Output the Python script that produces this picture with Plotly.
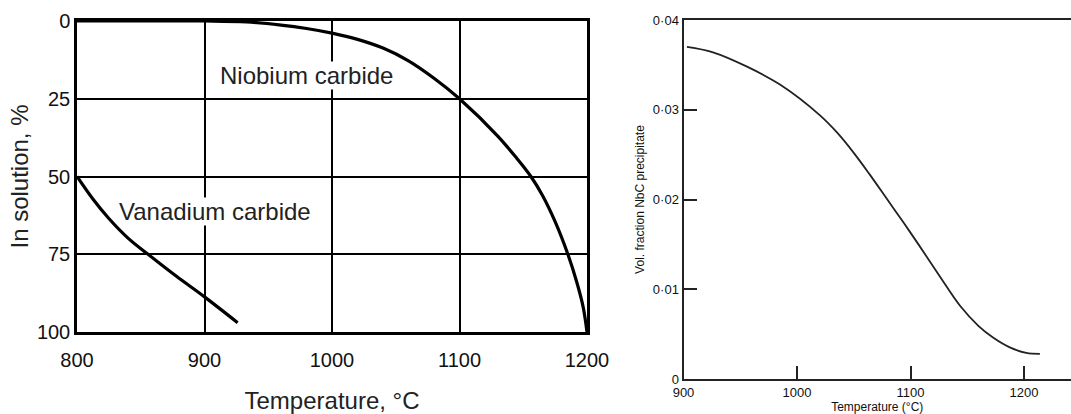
import plotly.graph_objects as go

# ---------------- data ----------------
# Left panel: percentage of carbide in solution vs temperature
nb_temp = [800, 900, 933, 960, 980, 1000, 1020, 1040, 1060, 1080, 1100, 1130, 1145, 1156,
           1165, 1175, 1185, 1192, 1197, 1200]
nb_sol = [0, 0, 0.3, 1.3, 2.4, 3.9, 5.9, 8.7, 12.8, 18.4, 25, 37, 44.2, 50,
          56, 64.5, 75, 84, 92, 100]

v_temp = [800, 812, 825, 840, 856, 878, 900, 926]
v_sol = [50, 57, 63.5, 69.8, 75.1, 82.1, 88.7, 97]

left_xticks = [800, 900, 1000, 1100, 1200]
left_yticks = [0, 25, 50, 75, 100]

# Right panel: volume fraction of NbC precipitate vs temperature
nbc_temp = [903, 926, 956, 985, 1020, 1035, 1050, 1064, 1079, 1094, 1107, 1125,
            1144, 1160, 1173, 1188, 1202, 1214]
nbc_vol = [0.0370, 0.0364, 0.0348, 0.0328, 0.0294, 0.0275, 0.0252, 0.0228, 0.0201,
           0.0174, 0.0150, 0.0116, 0.0081, 0.0059, 0.0046, 0.0035, 0.0029, 0.0028]

right_xticks = [900, 1000, 1100, 1200]
right_yticks = [0, 0.01, 0.02, 0.03, 0.04]
right_yticktext = ["0", "0·01", "0·02", "0·03", "0·04"]

W, H = 1071, 414
SANS = "Liberation Sans, Arial, Helvetica, sans-serif"

fig = go.Figure()
fig.add_trace(go.Scatter(x=nb_temp, y=nb_sol, mode="lines", xaxis="x", yaxis="y",
                         line=dict(color="black", width=3.2, shape="spline", smoothing=1.0),
                         showlegend=False, hoverinfo="skip"))
fig.add_trace(go.Scatter(x=v_temp, y=v_sol, mode="lines", xaxis="x", yaxis="y",
                         line=dict(color="black", width=3.2, shape="spline", smoothing=1.0),
                         showlegend=False, hoverinfo="skip"))
fig.add_trace(go.Scatter(x=nbc_temp, y=nbc_vol, mode="lines", xaxis="x2", yaxis="y2",
                         line=dict(color="#222", width=1.8, shape="spline", smoothing=1.0),
                         showlegend=False, hoverinfo="skip"))

fig.update_layout(
    width=W, height=H,
    margin=dict(l=0, r=0, t=0, b=0),
    paper_bgcolor="white", plot_bgcolor="white",
    showlegend=False,
    xaxis=dict(
        domain=[77 / W, 587 / W], range=[800, 1200], anchor="y",
        tickmode="array", tickvals=left_xticks,
        showgrid=True, gridcolor="black", gridwidth=2,
        showline=True, linecolor="black", linewidth=2.5, mirror=True,
        zeroline=False, ticks="",
        tickfont=dict(family=SANS, size=20, color="#111"),
        ticklabelstandoff=8,
        title=dict(text="Temperature, °C", font=dict(family=SANS, size=24, color="#222"), standoff=23),
        automargin=False,
    ),
    yaxis=dict(
        domain=[1 - 332 / H, 1 - 21 / H], range=[100, 0], anchor="x",
        tickmode="array", tickvals=left_yticks,
        showgrid=True, gridcolor="black", gridwidth=2,
        showline=True, linecolor="black", linewidth=2.5, mirror=True,
        zeroline=False, ticks="",
        tickfont=dict(family=SANS, size=20, color="#111"),
        ticklabelstandoff=0,
        title=dict(text="In solution, %", font=dict(family=SANS, size=24, color="#222"), standoff=2),
        automargin=False,
    ),
    xaxis2=dict(
        domain=[683.5 / W, 1.0], range=[900, 1241.4], anchor="y2",
        tickmode="array", tickvals=right_xticks,
        showgrid=False, zeroline=False,
        showline=True, linecolor="#222", linewidth=2, mirror=True,
        ticks="inside", ticklen=13, tickwidth=1.5, tickcolor="#222",
        tickfont=dict(family=SANS, size=13, color="#111"),
        title=dict(text="Temperature (°C)", font=dict(family=SANS, size=12, color="#111"), standoff=5),
        automargin=False,
    ),
    yaxis2=dict(
        domain=[1 - 379 / H, 1 - 20 / H], range=[0, 0.04], anchor="x2",
        tickmode="array", tickvals=right_yticks, ticktext=right_yticktext,
        showgrid=False, zeroline=False,
        showline=True, linecolor="#222", linewidth=2, mirror=False,
        ticks="inside", ticklen=13, tickwidth=1.5, tickcolor="#222",
        tickfont=dict(family=SANS, size=13, color="#111"),
        title=dict(text="Vol. fraction NbC precipitate", font=dict(family=SANS, size=12, color="#111"), standoff=6),
        automargin=False,
    ),
    annotations=[
        dict(x=980, y=17.5, xref="x", yref="y", text="Niobium carbide", showarrow=False,
             font=dict(family=SANS, size=24, color="#222"), bgcolor="white", borderpad=0),
        dict(x=908.5, y=61.3, xref="x", yref="y", text="Vanadium carbide", showarrow=False,
             font=dict(family=SANS, size=24, color="#222"), bgcolor="white", borderpad=0),
    ],
)

fig.write_html("out.html")
